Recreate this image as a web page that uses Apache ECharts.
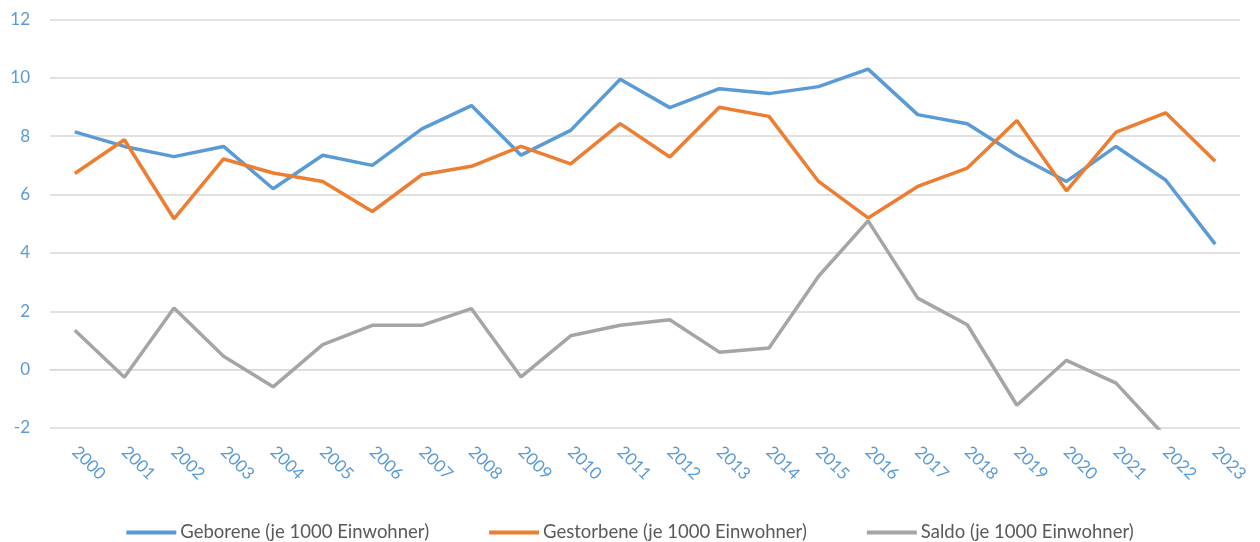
<!DOCTYPE html>
<html lang="de">
<head>
    <meta charset="UTF-8">
    <title>Geborene / Gestorbene je 1000 Einwohner</title>
    <script src="https://cdn.jsdelivr.net/npm/echarts@6/dist/echarts.min.js"></script>
    <style>
        html, body { margin: 0; padding: 0; background: #fff; }
        #main { width: 1260px; height: 542px; }
    </style>
</head>
<body>
<div id="main"></div>
<script type="text/javascript">
    // Jahre (Kategorien)
    var years = ['2000','2001','2002','2003','2004','2005','2006','2007','2008','2009','2010','2011',
                 '2012','2013','2014','2015','2016','2017','2018','2019','2020','2021','2022','2023'];
    // Geborene je 1000 Einwohner
    var geborene = [8.15, 7.65, 7.3, 7.65, 6.2, 7.35, 7.0, 8.25, 9.05, 7.35, 8.2, 9.95,
                    8.98, 9.63, 9.46, 9.7, 10.3, 8.74, 8.43, 7.35, 6.45, 7.65, 6.5, 4.3];
    // Gestorbene je 1000 Einwohner
    var gestorbene = [6.72, 7.88, 5.17, 7.22, 6.74, 6.45, 5.42, 6.68, 6.97, 7.65, 7.05, 8.43,
                      7.29, 8.99, 8.68, 6.45, 5.2, 6.28, 6.91, 8.54, 6.13, 8.14, 8.8, 7.14];
    // Saldo je 1000 Einwohner (2022/2023 unter dem Achsenminimum abgeschnitten)
    var saldo = [1.35, -0.26, 2.11, 0.46, -0.59, 0.86, 1.52, 1.52, 2.09, -0.25, 1.16, 1.52,
                 1.71, 0.6, 0.74, 3.2, 5.1, 2.45, 1.54, -1.22, 0.32, -0.46, -2.3, -2.8];
    var seriesNames = ['Geborene (je 1000 Einwohner)', 'Gestorbene (je 1000 Einwohner)', 'Saldo (je 1000 Einwohner)'];
    var colors = ['#5B9BD5', '#ED7D31', '#A5A5A5'];

    var myChart = echarts.init(document.getElementById('main'));
    var font = 'Lato, "Open Sans", sans-serif';

    function line(name, data, color) {
        return {
            name: name,
            type: 'line',
            data: data,
            symbol: 'none',
            clip: true,
            lineStyle: { color: color, width: 3.5 },
            itemStyle: { color: color }
        };
    }

    var option = {
        animation: false,
        color: colors,
        grid: { left: 50, right: 20, top: 19.5, bottom: 114 },
        legend: {
            top: 518,
            left: 'center',
            icon: 'rect',
            itemWidth: 50,
            itemHeight: 4,
            itemGap: 60,
            textStyle: { color: '#595959', fontSize: 18.5, fontFamily: font, padding: [0, 0, 0, -1] },
            data: seriesNames
        },
        xAxis: {
            type: 'category',
            data: years,
            boundaryGap: true,
            axisLine: { lineStyle: { color: '#D9D9D9' } },
            axisTick: { show: false },
            axisLabel: { rotate: -45, margin: 21, color: '#5B9BD5', fontSize: 17, fontFamily: font, interval: 0 }
        },
        yAxis: {
            type: 'value',
            min: -2,
            max: 12,
            interval: 2,
            axisLine: { show: false },
            axisTick: { show: false },
            axisLabel: { margin: 20, color: '#5B9BD5', fontSize: 17, fontFamily: font },
            splitLine: { lineStyle: { color: '#D9D9D9', width: 1.5 } }
        },
        series: [
            line(seriesNames[0], geborene, colors[0]),
            line(seriesNames[1], gestorbene, colors[1]),
            line(seriesNames[2], saldo, colors[2])
        ]
    };
    myChart.setOption(option);
</script>
</body>
</html>
